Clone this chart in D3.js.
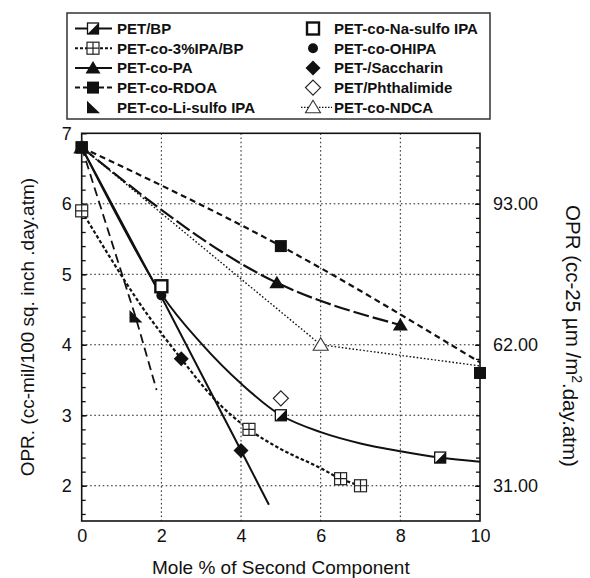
<!DOCTYPE html>
<html><head><meta charset="utf-8">
<script src="https://cdn.jsdelivr.net/npm/d3@7"></script>
<style>body{margin:0;background:#fff} svg{display:block} text{font-family:"Liberation Sans",Arial,Helvetica,sans-serif;fill:#111}</style>
</head><body><svg id="c" width="590" height="578"></svg>
<script>
// ---------- data ----------
const seriesNames = ["PET/BP", "PET-co-3%IPA/BP", "PET-co-PA", "PET-co-RDOA", "PET-co-Li-sulfo IPA",
  "PET-co-Na-sulfo IPA", "PET-co-OHIPA", "PET-/Saccharin", "PET/Phthalimide", "PET-co-NDCA"];
const xTicks = [0, 2, 4, 6, 8, 10];
const yTicks = [2, 3, 4, 5, 6, 7];
const yGrid = [2, 3, 4, 5, 6];
const xGrid = [2, 4, 6, 8];
const rightTickPos = [2, 4, 6];
const rightTickLabels = ["31.00", "62.00", "93.00"];
const xTitle = "Mole % of Second Component";
const yTitle = "OPR. (cc-mil/100 sq. inch .day.atm)";

// measured points (mole %, OPR)
const petBP       = [[0, 6.8], [5, 3.0], [9, 2.4]];
const ipaBP       = [[0, 5.9], [4.2, 2.8], [6.5, 2.1], [7, 2.0]];
const petPA       = [[0, 6.8], [4.9, 4.88], [8, 4.28]];
const petRDOA     = [[0, 6.8], [5, 5.4], [10, 3.6]];
const liSulfo     = [[1.35, 4.4]];
const naSulfo     = [[2, 4.83]];
const ohipa       = [[2, 4.7]];
const saccharin   = [[2.5, 3.8], [4, 2.5]];
const phthalimide = [[5, 3.24]];
const petNDCA     = [[0, 6.8], [6, 4.0]];

// trend curves
const fitBP    = [[0, 6.8], [2, 4.72], [3, 4.02], [4, 3.45], [5, 3.0], [6, 2.76], [7, 2.6], [8, 2.49], [9, 2.4], [10, 2.34]];
const fitIPA   = [[0, 5.9], [0.7, 5.25], [1.5, 4.55], [2.5, 3.8], [3.3, 3.25], [4.2, 2.8], [5, 2.52], [6, 2.25], [6.5, 2.1], [7, 2.0]];
const fitPA    = [[0, 6.8], [4.9, 4.88], [8, 4.28]];
const fitRDOA  = [[0, 6.8], [5, 5.4], [10, 3.75]];
const fitNDCA  = [[0, 6.8], [6, 4.0], [10, 3.7]];
const fitLi    = [[0, 6.8], [1.35, 4.4], [1.88, 3.36]];
const fitSolid = [[0, 6.8], [2, 4.68], [4, 2.5], [4.7, 1.73]];

// ---------- chart ----------
const svg = d3.select("#c");
const L = 81.7, R = 480, T = 133.3, B = 521;
const x = d3.scaleLinear().domain([0, 10]).range([L, R]);
const y = d3.scaleLinear().domain([1.5, 7]).range([B, T]);
const minor = d3.range(1.6, 7.0, 0.2).map(v => +v.toFixed(1));

// grid
const grid = svg.append("g").attr("stroke", "#222").attr("stroke-width", 1).attr("stroke-dasharray", "1.6,2.6");
grid.selectAll(".gx").data(xGrid).join("line").attr("x1", d => x(d)).attr("x2", d => x(d)).attr("y1", T).attr("y2", B);
grid.selectAll(".gy").data(yGrid).join("line").attr("y1", d => y(d)).attr("y2", d => y(d)).attr("x1", L).attr("x2", R);

// axes
const ax = svg.append("g").attr("transform", `translate(0,${B})`)
  .call(d3.axisBottom(x).tickValues(xTicks).tickSize(0).tickPadding(8).tickFormat(d3.format("d")));
const ay = svg.append("g").attr("transform", `translate(${L},0)`)
  .call(d3.axisLeft(y).tickValues(yTicks).tickSize(-5).tickPadding(10).tickFormat(d3.format("d")));
const ayMinor = svg.append("g").attr("transform", `translate(${L},0)`)
  .call(d3.axisLeft(y).tickValues(minor).tickSize(-4).tickFormat(""));
const ar = svg.append("g").attr("transform", `translate(${R},0)`)
  .call(d3.axisRight(y).tickValues(rightTickPos).tickSize(-5).tickPadding(13).tickFormat((d, i) => rightTickLabels[i]));
const arMinor = svg.append("g").attr("transform", `translate(${R},0)`)
  .call(d3.axisRight(y).tickValues(minor).tickSize(-4).tickFormat(""));
[ax, ay, ayMinor, ar, arMinor].forEach(g => {
  g.select(".domain").remove();
  g.selectAll("line").attr("stroke", "#111").attr("stroke-width", 1.3);
  g.selectAll("text").style("font-size", "18px").attr("fill", "#111");
});
svg.append("rect").attr("x", L).attr("y", T).attr("width", R - L).attr("height", B - T)
  .attr("fill", "none").attr("stroke", "#111").attr("stroke-width", 1.6);

// titles
svg.append("text").attr("x", (L + R) / 2).attr("y", 574).attr("text-anchor", "middle")
  .style("font-size", "19px").text(xTitle);
svg.append("text").attr("transform", `translate(34,${(T + B) / 2}) rotate(-90)`).attr("text-anchor", "middle")
  .style("font-size", "19px").text(yTitle);
const rt = svg.append("text").attr("transform", `translate(566,${336}) rotate(90)`).attr("text-anchor", "middle")
  .style("font-size", "20.5px");
rt.append("tspan").text("OPR (cc-25 \u00b5m /m");
rt.append("tspan").attr("dy", "-0.45em").style("font-size", "14px").text("2");
rt.append("tspan").attr("dy", "0.45em").text(".day.atm)");

// lines
const line = d3.line().x(d => x(d[0])).y(d => y(d[1]));
const lines = [
  {d: fitRDOA, dash: "6,4", w: 2.2, c: d3.curveMonotoneX},
  {d: fitPA, dash: "16,4", w: 2.2, c: d3.curveMonotoneX},
  {d: fitNDCA, dash: "1.6,2", w: 1.4, c: d3.curveLinear},
  {d: fitLi, dash: "9,5", w: 1.8, c: d3.curveLinear},
  {d: fitIPA, dash: "3.5,2.2", w: 2.2, c: d3.curveMonotoneX},
  {d: fitSolid, dash: null, w: 2, c: d3.curveLinear},
  {d: fitBP, dash: null, w: 2, c: d3.curveCatmullRom.alpha(0.5)}
];
lines.forEach(l => {
  svg.append("path").attr("d", line.curve(l.c)(l.d)).attr("fill", "none").attr("stroke", "#111")
    .attr("stroke-width", l.w).attr("stroke-dasharray", l.dash);
});

// markers
function marker(g, type, cx, cy) {
  const s = 11, h = s / 2;
  if (type === "halfsq") {
    g.append("rect").attr("x", cx - h).attr("y", cy - h).attr("width", s).attr("height", s).attr("fill", "#fff").attr("stroke", "#111").attr("stroke-width", 1.3);
    g.append("path").attr("d", `M${cx + h},${cy - h}L${cx + h},${cy + h}L${cx - h},${cy + h}Z`).attr("fill", "#111");
  } else if (type === "crosssq") {
    g.append("rect").attr("x", cx - 6).attr("y", cy - 6).attr("width", 12).attr("height", 12).attr("fill", "#fff").attr("stroke", "#222").attr("stroke-width", 1.2);
    g.append("path").attr("d", `M${cx},${cy - 6}V${cy + 6}M${cx - 6},${cy}H${cx + 6}`).attr("stroke", "#222").attr("stroke-width", 1.2);
  } else if (type === "tri") {
    g.append("path").attr("d", `M${cx},${cy - 7}L${cx + 7.5},${cy + 5.5}L${cx - 7.5},${cy + 5.5}Z`).attr("fill", "#111");
  } else if (type === "sq") {
    g.append("rect").attr("x", cx - 6).attr("y", cy - 6).attr("width", 12).attr("height", 12).attr("fill", "#111");
  } else if (type === "ltri") {
    g.append("path").attr("d", `M${cx - 6},${cy - 6.5}L${cx - 6},${cy + 6}L${cx + 7},${cy + 6}Z`).attr("fill", "#111");
  } else if (type === "opensq") {
    g.append("rect").attr("x", cx - 6).attr("y", cy - 6).attr("width", 12).attr("height", 12).attr("fill", "#fff").attr("stroke", "#111").attr("stroke-width", 2.4);
  } else if (type === "circle") {
    g.append("circle").attr("cx", cx).attr("cy", cy).attr("r", 5).attr("fill", "#111");
  } else if (type === "diamond") {
    g.append("path").attr("d", `M${cx},${cy - 7.5}L${cx + 7.5},${cy}L${cx},${cy + 7.5}L${cx - 7.5},${cy}Z`).attr("fill", "#111");
  } else if (type === "odiamond") {
    g.append("path").attr("d", `M${cx},${cy - 7.5}L${cx + 7.5},${cy}L${cx},${cy + 7.5}L${cx - 7.5},${cy}Z`).attr("fill", "#fff").attr("stroke", "#222").attr("stroke-width", 1.2);
  } else if (type === "otri") {
    g.append("path").attr("d", `M${cx},${cy - 7}L${cx + 7.5},${cy + 5.5}L${cx - 7.5},${cy + 5.5}Z`).attr("fill", "#fff").attr("stroke", "#333").attr("stroke-width", 1.1);
  }
}
const series = [
  {name: seriesNames[9], pts: petNDCA, m: "otri"},
  {name: seriesNames[1], pts: ipaBP, m: "crosssq"},
  {name: seriesNames[2], pts: petPA, m: "tri"},
  {name: seriesNames[0], pts: petBP, m: "halfsq"},
  {name: seriesNames[4], pts: liSulfo, m: "ltri"},
  {name: seriesNames[8], pts: phthalimide, m: "odiamond"},
  {name: seriesNames[7], pts: saccharin, m: "diamond"},
  {name: seriesNames[6], pts: ohipa, m: "circle"},
  {name: seriesNames[5], pts: naSulfo, m: "opensq"},
  {name: seriesNames[3], pts: petRDOA, m: "sq"}
];
const mg = svg.append("g");
series.forEach(s => s.pts.forEach(p => marker(mg, s.m, x(p[0]), y(p[1]))));

// legend
const lg = svg.append("g");
lg.append("rect").attr("x", 67).attr("y", 13).attr("width", 423).attr("height", 106)
  .attr("fill", "#fff").attr("stroke", "#333").attr("stroke-width", 1.5);
const legendLeft = [
  {name: seriesNames[0], m: "halfsq", dash: null},
  {name: seriesNames[1], m: "crosssq", dash: "3,2"},
  {name: seriesNames[2], m: "tri", dash: null},
  {name: seriesNames[3], m: "sq", dash: "5,3"},
  {name: seriesNames[4], m: "ltri", dash: "none"}
];
const legendRight = [
  {name: seriesNames[5], m: "opensq", dash: "none"},
  {name: seriesNames[6], m: "circle", dash: "none"},
  {name: seriesNames[7], m: "diamond", dash: "none"},
  {name: seriesNames[8], m: "odiamond", dash: "none"},
  {name: seriesNames[9], m: "otri", dash: "1.5,1.5"}
];
function legendCol(items, lx1, lx2, mx, tx) {
  items.forEach((it, i) => {
    const yy = 28.5 + i * 19.7;
    if (it.dash !== "none") {
      lg.append("line").attr("x1", lx1).attr("x2", lx2).attr("y1", yy).attr("y2", yy)
        .attr("stroke", "#111").attr("stroke-width", it.dash === "1.5,1.5" ? 1.3 : 2).attr("stroke-dasharray", it.dash);
    }
    marker(lg, it.m, mx, yy);
    lg.append("text").attr("x", tx).attr("y", yy).attr("dy", "0.36em")
      .style("font-size", "15px").style("font-weight", "bold").text(it.name);
  });
}
legendCol(legendLeft, 75, 112, 93, 117);
legendCol(legendRight, 301, 332, 313, 334);
</script></body></html>
